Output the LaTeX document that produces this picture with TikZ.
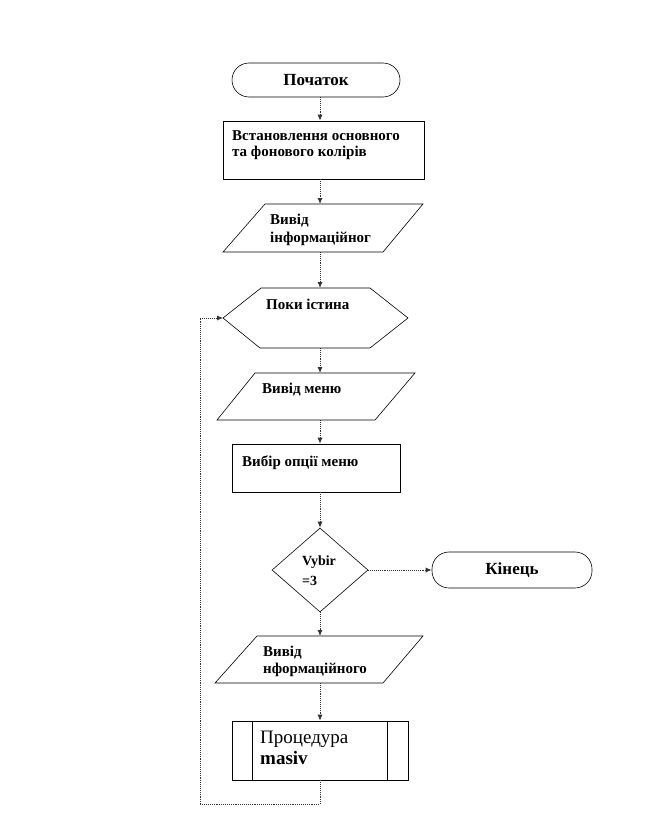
\documentclass[tikz,border=0pt]{standalone}
\usepackage{fontspec}
\setmainfont{Liberation Serif}
\usetikzlibrary{arrows.meta,calc,shapes.geometric}
\begin{document}
\begin{tikzpicture}[x=1pt,y=-1pt,
  outline/.style={draw=black, line width=0.6pt},
  ghost/.style={draw=none, inner sep=0pt, outer sep=0pt},
  conn/.style={densely dotted, line width=0.9pt, draw=black!80, -{Latex[length=6pt,width=5pt]}},
  loopline/.style={densely dotted, line width=0.9pt, draw=black!80},
  lbl/.style={anchor=base west, inner sep=0pt, font=\bfseries\fontsize{15}{17}\selectfont},
  term/.style={outline, rounded corners=17pt, inner sep=0pt, font=\bfseries\fontsize{17}{19}\selectfont}
]
\useasboundingbox (0,0) rectangle (656,840);
\coordinate (flow) at (320,0);
\coordinate (loopc) at (200,804);

% Start
\node[term, minimum width=168pt, minimum height=34pt] (start) at (316,80) {Початок};

% Box 1
\node[outline, minimum width=201pt, minimum height=58pt, inner sep=0pt] (b1) at (323.5,150) {};
\node[lbl] (t1a) at (232,140) {Встановлення основного};
\node[lbl] (t1b) at (232,156) {та фонового колірів};

% Parallelogram 1
\node[ghost, minimum width=200pt, minimum height=48pt] (p1) at (323,228) {};
\draw[outline] (p1.south west) -- ($(p1.south east)+(-40,0)$) -- (p1.north east) -- ($(p1.north west)+(42,0)$) -- cycle;
\node[lbl] (t2a) at (270,224) {Вивід};
\node[lbl] (t2b) at (270,242) {інформаційног};

% Hexagon
\node[ghost, minimum width=185pt, minimum height=60pt] (hex) at (315.5,318) {};
\draw[outline] (hex.west) -- ($(hex.north west)+(38,0)$) -- ($(hex.north east)+(-38,0)$) -- (hex.east)
  -- ($(hex.south east)+(-38,0)$) -- ($(hex.south west)+(37,0)$) -- cycle;
\node[lbl] (t3) at (266,309) {Поки істина};

% Parallelogram 2
\node[ghost, minimum width=198pt, minimum height=47pt] (p2) at (316,396.5) {};
\draw[outline] (p2.south west) -- ($(p2.south east)+(-40,0)$) -- (p2.north east) -- ($(p2.north west)+(38,0)$) -- cycle;
\node[lbl] (t4) at (262,393) {Вивід меню};

% Box 2
\node[outline, minimum width=168pt, minimum height=48pt, inner sep=0pt] (b2) at (316,468) {};
\node[lbl] (t5) at (242,466) {Вибір опції меню};

% Diamond
\node[outline, diamond, minimum width=96pt, minimum height=84pt, inner sep=0pt] (dec) at (320,570) {};
\node[lbl, font=\bfseries\fontsize{14}{16}\selectfont] (t6a) at (302,565) {Vybir};
\node[lbl, font=\bfseries\fontsize{14}{16}\selectfont] (t6b) at (302,585) {=3};

% End
\node[term, minimum width=160pt, minimum height=36pt] (end) at (512,570) {Кінець};

% Parallelogram 3
\node[ghost, minimum width=208pt, minimum height=47pt] (p3) at (319,659.5) {};
\draw[outline] (p3.south west) -- ($(p3.south east)+(-40,0)$) -- (p3.north east) -- ($(p3.north west)+(42,0)$) -- cycle;
\node[lbl] (t7a) at (263,656) {Вивід};
\node[lbl] (t7b) at (263,673) {нформаційного};

% Predefined process
\node[outline, minimum width=176pt, minimum height=59pt, inner sep=0pt] (proc) at (320,750.5) {};
\draw[outline] ($(proc.north west)+(21,0)$) -- ($(proc.south west)+(21,0)$);
\draw[outline] ($(proc.north east)+(-21,0)$) -- ($(proc.south east)+(-21,0)$);
\node[anchor=base west, inner sep=0pt, font=\fontsize{19}{21}\selectfont] (t8a) at (260,743) {Процедура};
\node[anchor=base west, inner sep=0pt, font=\bfseries\fontsize{19}{21}\selectfont] (t8b) at (260,764) {masiv};

% Connectors
\draw[conn] (start.south -| flow) -- (b1.north -| flow);
\draw[conn] (b1.south -| flow) -- (p1.north -| flow);
\draw[conn] (p1.south -| flow) -- (hex.north -| flow);
\draw[conn] (hex.south -| flow) -- (p2.north -| flow);
\draw[conn] (p2.south -| flow) -- (b2.north -| flow);
\draw[conn] (b2.south -| flow) -- (dec.north);
\draw[conn] (dec.south) -- (p3.north -| flow);
\draw[conn] (p3.south -| flow) -- (proc.north -| flow);
\draw[conn] (dec.east) -- (end.west);
\draw[loopline] (proc.south -| flow) |- (loopc);
\draw[conn] (loopc) |- (hex.west);
\end{tikzpicture}
\end{document}
